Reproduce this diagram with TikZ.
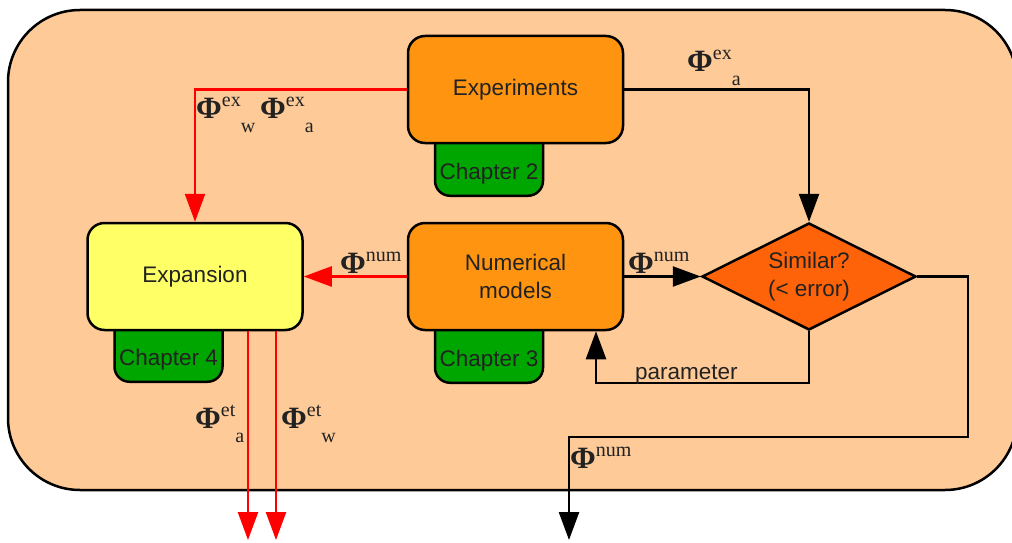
\documentclass[tikz,border=0pt]{standalone}
\usepackage{fontspec}
\setmainfont{Liberation Serif}
\newfontfamily\sansf{Liberation Sans}
\usetikzlibrary{arrows.meta,shapes.geometric}
\definecolor{bgpeach}{HTML}{FECA98}
\definecolor{boxorange}{HTML}{FF9411}
\definecolor{tabgreen}{HTML}{00A600}
\definecolor{boxyellow}{HTML}{FFFF66}
\definecolor{diaorange}{HTML}{FF6309}
\definecolor{txtgray}{HTML}{222222}
\newcommand\philab[2]{{\fontsize{31}{31}\selectfont\textbf{Φ}}{\fontsize{20}{20}\selectfont\raisebox{12pt}{#1}\raisebox{-14pt}{#2}}}
\tikzset{
  every node/.style={text=txtgray},
  mainbox/.style={draw=black, line width=2.5pt, rounded corners=17pt, minimum width=215pt, minimum height=107pt, inner sep=0pt, align=center, font=\sansf\fontsize{22.5}{28}\selectfont},
  tabbox/.style={draw=black, fill=tabgreen, line width=2.5pt, rounded corners=15pt, minimum width=108pt, inner sep=0pt, text height=61pt, text depth=16pt, anchor=south, font=\sansf\fontsize{22.5}{28}\selectfont},
  decision/.style={diamond, aspect=2, draw=black, fill=diaorange, line width=2.5pt, minimum width=214pt, minimum height=107pt, inner sep=0pt, align=center, font=\sansf\fontsize{22.5}{28}\selectfont},
  flowarr/.style={draw=black, line width=2.5pt, -{Triangle[length=28pt,width=20pt]}},
  redarr/.style={draw=red, line width=2.5pt, -{Triangle[length=28pt,width=20pt]}},
  philabel/.style={anchor=base west, inner sep=0pt, text=txtgray},
  plainlabel/.style={anchor=base west, inner sep=0pt, font=\sansf\fontsize{22.5}{28}\selectfont}
}
\begin{document}
\begin{tikzpicture}[x=1pt,y=-1pt]
\useasboundingbox (0,0) rectangle (1012,543);
% background
\path[draw=black, fill=bgpeach, line width=2.5pt, rounded corners=72pt] (8,10) rectangle (1017,490);
% tabs
\node[tabbox] (tab2) at (489,197) {Chapter 2};
\node[tabbox] (tab3) at (489,384) {Chapter 3};
\node[tabbox] (tab4) at (168.5,383) {Chapter 4};
% boxes
\node[mainbox, fill=boxorange] (exp) at (515.5,89.5) {Experiments};
\node[mainbox, fill=boxorange] (num) at (515.5,276.5) {Numerical\\models};
\node[mainbox, fill=boxyellow] (expn) at (195,276.5) {Expansion};
\node[decision] (sim) at (809,276.5) {Similar?\\(< error)};
% coordinates
\coordinate (loopc) at (596,383);
\coordinate (r1) at (968,437);
\coordinate (outnum) at (569,540);
\coordinate (outa) at (248,540);
\coordinate (outw) at (276,540);
% connectors
\draw[redarr] (exp.west) -| (expn.north);
\draw[flowarr] (exp.east) -| (sim.north);
\draw[redarr] (num.west) -- (expn.east);
\draw[flowarr] (num.east) -- (sim.west);
\draw[flowarr] (sim.south) |- (loopc) -- (num.south -| loopc);
\draw[flowarr] (sim.east) -| (r1) -| (outnum);
\draw[redarr] (expn.south -| outa) -- (outa);
\draw[redarr] (expn.south -| outw) -- (outw);
% labels
\node[philabel] (l1) at (196,118) {\philab{ex}{w}};
\node[philabel] (l2) at (260,118) {\philab{ex}{a}};
\node[philabel] (l3) at (687,71) {\philab{ex}{a}};
\node[philabel] (l4) at (340,273) {\philab{num}{}};
\node[philabel] (l5) at (628,273) {\philab{num}{}};
\node[philabel] (l6) at (195,428) {\philab{et}{a}};
\node[philabel] (l7) at (281,428) {\philab{et}{w}};
\node[philabel] (l8) at (570,468) {\philab{num}{}};
\node[plainlabel] (lpar) at (635,379) {parameter};
\end{tikzpicture}
\end{document}
